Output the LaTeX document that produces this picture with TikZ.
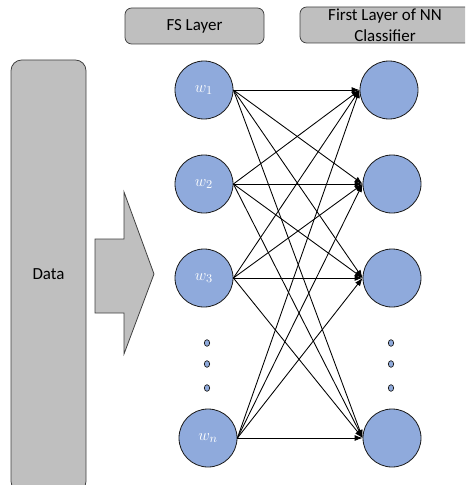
\documentclass[tikz,border=0pt]{standalone}
\usepackage{fontspec}
\setmainfont{Carlito}
\usetikzlibrary{arrows.meta,shapes.geometric}
\definecolor{boxgray}{HTML}{BFBFBF}
\definecolor{boxline}{HTML}{404040}
\definecolor{nodeblue}{HTML}{8FAADC}
\definecolor{nodeline}{HTML}{1A1A1A}
\tikzset{
  hdrbox/.style={draw=boxline, fill=boxgray, rounded corners=5pt, line width=0.6pt},
  neuron/.style={circle, draw=nodeline, fill=nodeblue, minimum size=43.5pt, inner sep=0pt, line width=0.6pt, text=white, font=\fontsize{13pt}{15pt}\selectfont},
  dotnode/.style={ellipse, draw=nodeline, fill=nodeblue, minimum width=4pt, minimum height=5pt, inner sep=0pt, line width=0.5pt},
  conn/.style={line width=0.65pt, -{Latex[length=6pt,width=4.5pt]}},
  hdrtext/.style={font=\fontsize{12.7pt}{15.5pt}\selectfont, align=center}
}
\begin{document}
\begin{tikzpicture}[x=0.75pt,y=-0.75pt]
\useasboundingbox (0,0) rectangle (465,485);
\clip (0,0) rectangle (465,485);
% header boxes
\draw[hdrbox] (125,8) rectangle (264,44);
\node[hdrtext] (fs) at (194.5,26) {FS Layer};
\draw[hdrbox] (300,7) rectangle (472,43);
\node[hdrtext] (nn) at (385,25) {First Layer of NN\\Classifier};
% data box
\draw[hdrbox, rounded corners=8pt] (11,60) rectangle (86,492);
\node[hdrtext] (data) at (48.5,274) {Data};
% big arrow
\draw[draw=boxline, fill=boxgray, line width=0.6pt]
  (95,239) -- (124,239) -- (124,192) -- (154,274) -- (124,354) -- (124,313) -- (95,313) -- cycle;
% neurons left
\node[neuron] (L1) at (204,90) {$w_1$};
\node[neuron] (L2) at (204,184) {$w_2$};
\node[neuron] (L3) at (204,278) {$w_3$};
\node[neuron] (Ln) at (208,438) {$w_n$};
% neurons right
\node[neuron] (R1) at (389,90) {};
\node[neuron] (R2) at (392,184) {};
\node[neuron] (R3) at (392,278) {};
\node[neuron] (R4) at (392,438) {};
% dots
\node[dotnode] (ld1) at (207,343) {};
\node[dotnode] (ld2) at (207,364) {};
\node[dotnode] (ld3) at (207,388) {};
\node[dotnode] (rd1) at (391,343) {};
\node[dotnode] (rd2) at (391,364) {};
\node[dotnode] (rd3) at (391,388) {};
% connections
\foreach \i in {1,2,3,n}{
  \foreach \j in {1,2,3,4}{
    \draw[conn] (L\i.east) -- (R\j.west);
  }
}
\end{tikzpicture}
\end{document}
